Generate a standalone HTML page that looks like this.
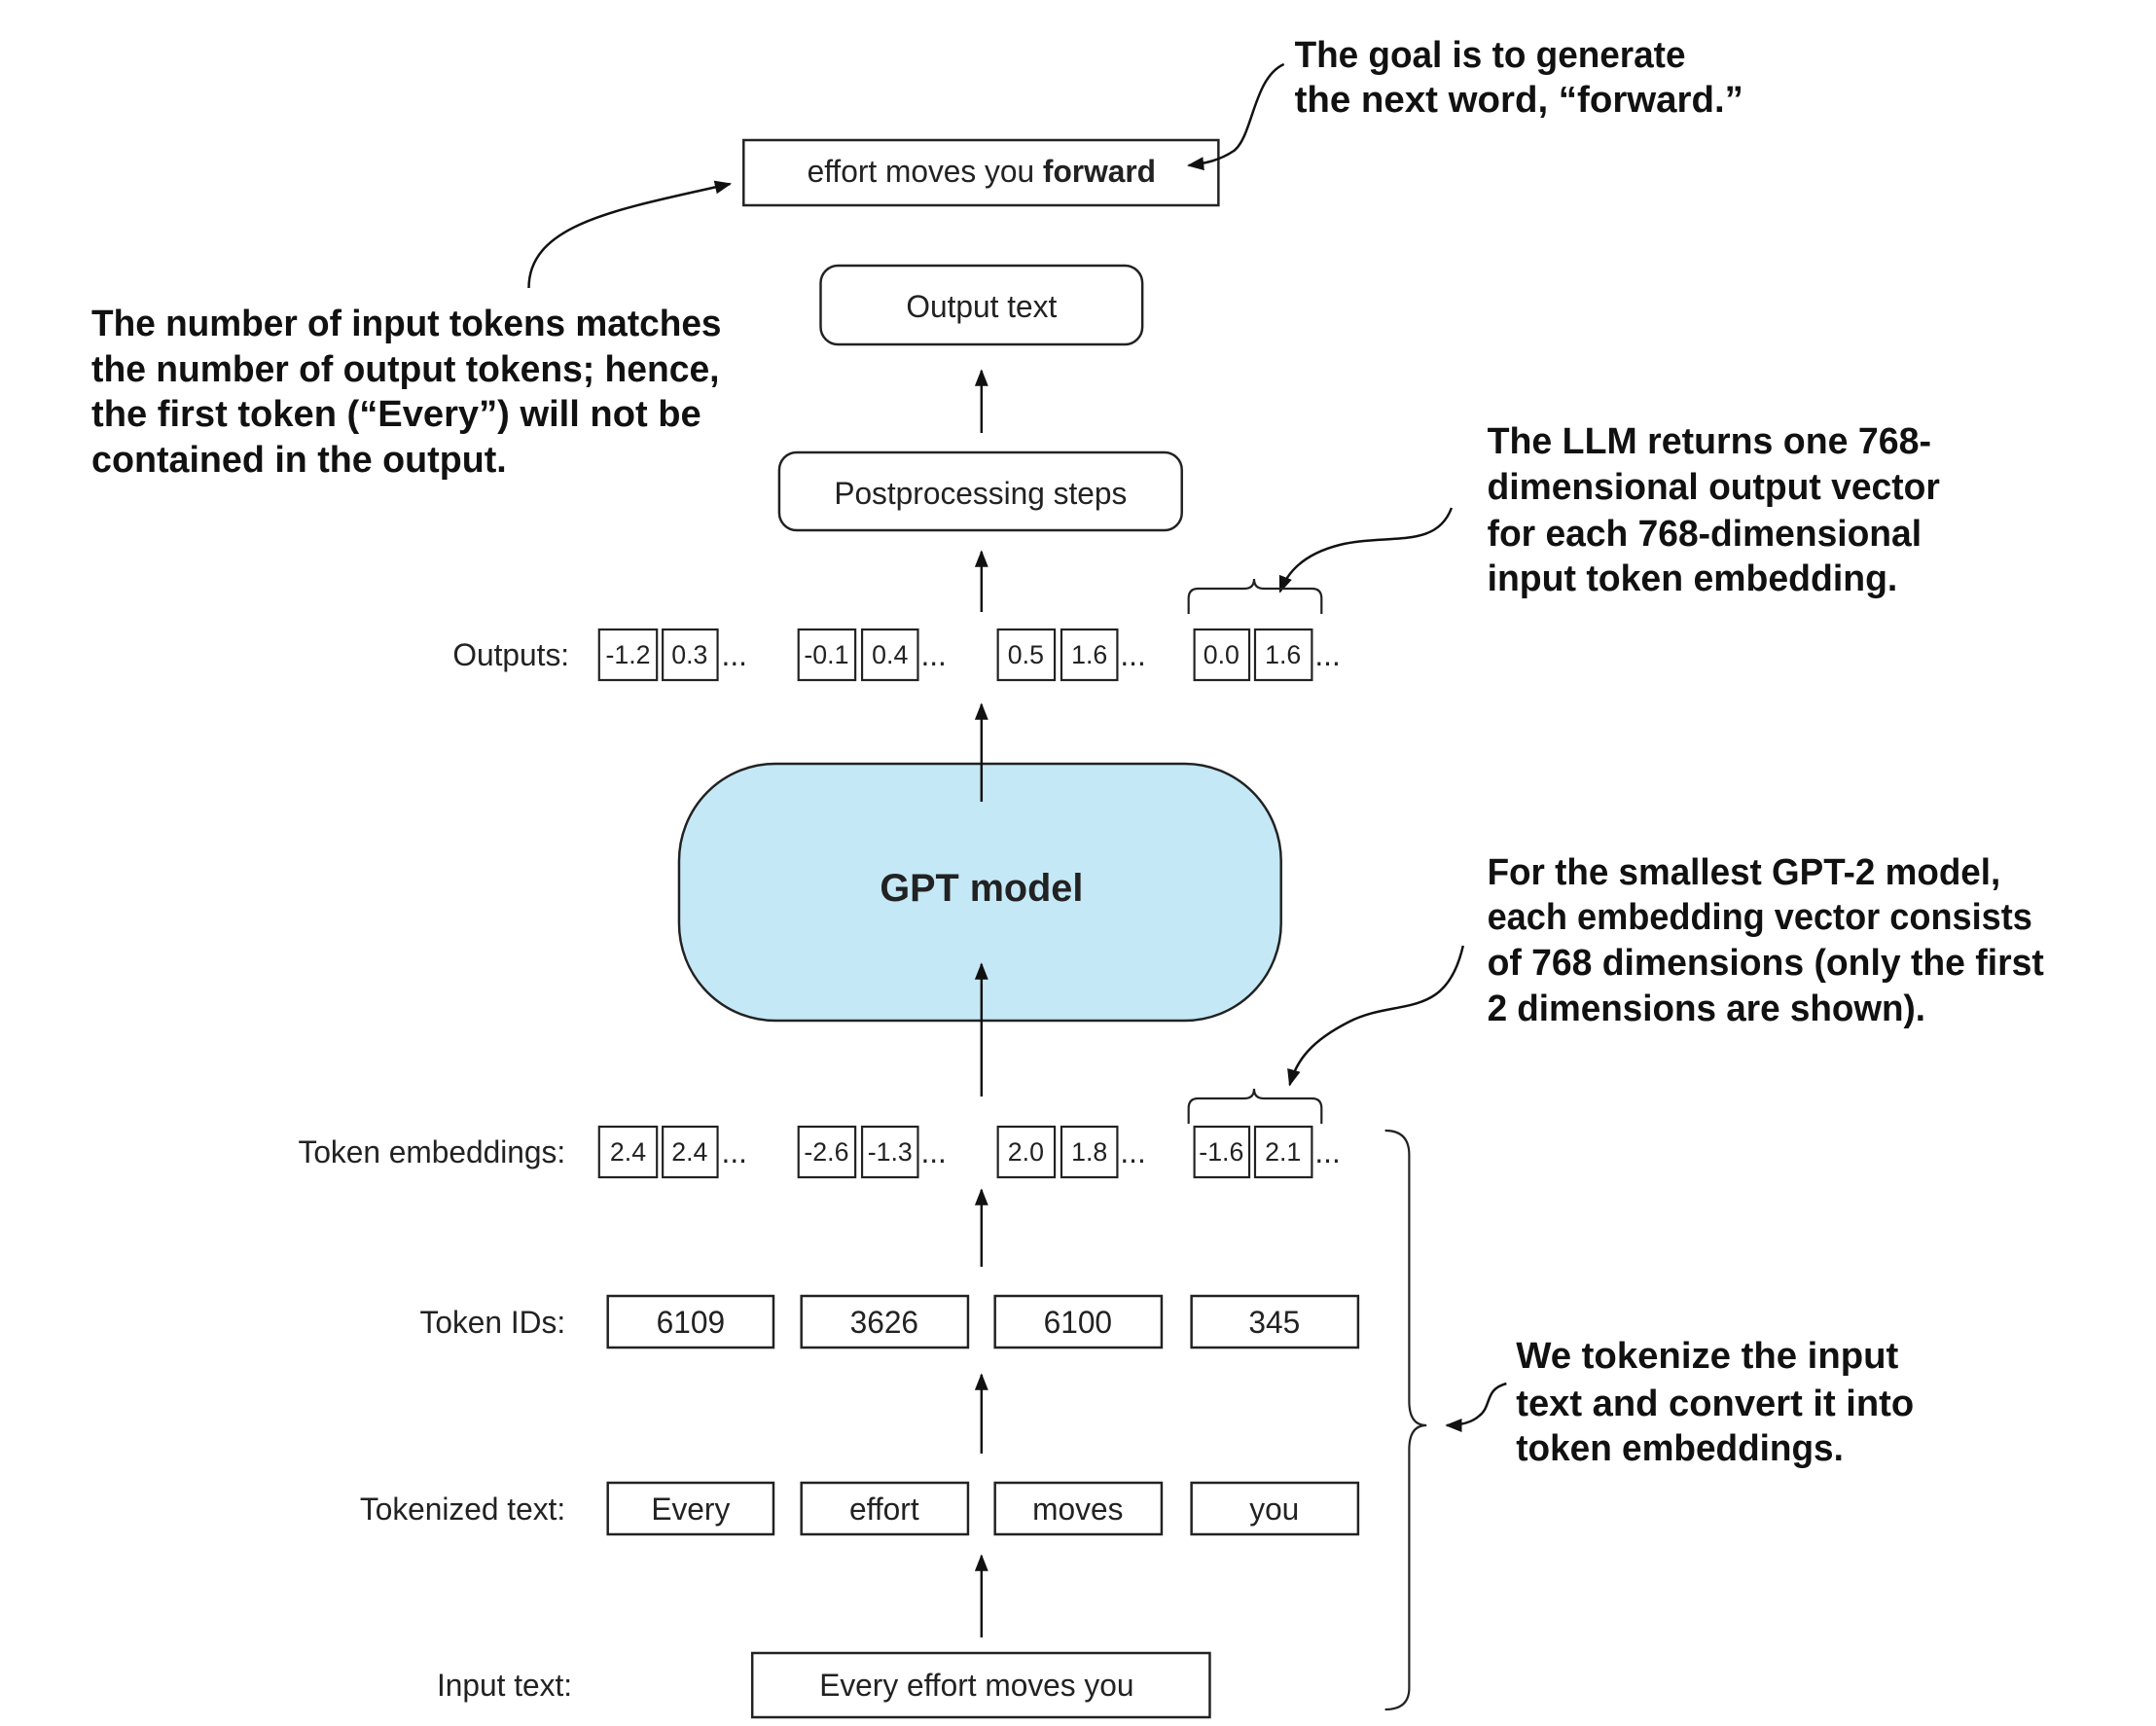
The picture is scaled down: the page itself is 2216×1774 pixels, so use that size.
<!DOCTYPE html>
<html><head><meta charset="utf-8"><style>html,body{margin:0;padding:0;background:#fff}svg{display:block}</style></head><body>
<svg width="2216" height="1774" viewBox="0 0 2216 1774" xmlns="http://www.w3.org/2000/svg" font-family="Liberation Sans, sans-serif">
<defs><marker id="a" viewBox="0 0 10 10" refX="9" refY="5" markerWidth="7" markerHeight="7" orient="auto"><path d="M0,1 L10,5 L0,9 z" fill="#111"/></marker></defs>
<g transform="matrix(0.99 0 0 1 1 0)">
<g fill="none" stroke="#222" stroke-width="2.5">
<rect x="771" y="144" width="493" height="67"/>
<rect x="851" y="273" width="334" height="81" rx="18"/>
<rect x="808" y="465" width="418" height="80" rx="18"/>
<rect x="704" y="785" width="625" height="264" rx="100" fill="#c4e8f5"/>
<rect x="630" y="1332" width="172" height="53"/><rect x="831" y="1332" width="173" height="53"/><rect x="1032" y="1332" width="173" height="53"/><rect x="1236" y="1332" width="173" height="53"/>
<rect x="630" y="1524" width="172" height="53"/><rect x="831" y="1524" width="173" height="53"/><rect x="1032" y="1524" width="173" height="53"/><rect x="1236" y="1524" width="173" height="53"/>
<rect x="780" y="1699" width="475" height="66"/>
<g stroke-width="2.2">
<rect x="621" y="647" width="60" height="52"/><rect x="687" y="647" width="57" height="52"/><rect x="828" y="647" width="59" height="52"/><rect x="894" y="647" width="58" height="52"/><rect x="1035" y="647" width="59" height="52"/><rect x="1101" y="647" width="58" height="52"/><rect x="1239" y="647" width="57" height="52"/><rect x="1302" y="647" width="59" height="52"/>
<rect x="621" y="1158" width="60" height="52"/><rect x="687" y="1158" width="57" height="52"/><rect x="828" y="1158" width="59" height="52"/><rect x="894" y="1158" width="58" height="52"/><rect x="1035" y="1158" width="59" height="52"/><rect x="1101" y="1158" width="58" height="52"/><rect x="1239" y="1158" width="57" height="52"/><rect x="1302" y="1158" width="59" height="52"/>
</g>
</g>
<g stroke="#111" stroke-width="2.5" fill="none" marker-end="url(#a)">
<line x1="1018" y1="445" x2="1018" y2="381"/>
<line x1="1018" y1="629" x2="1018" y2="567"/>
<line x1="1018" y1="824" x2="1018" y2="724"/>
<line x1="1018" y1="1127" x2="1018" y2="991"/>
<line x1="1018" y1="1302" x2="1018" y2="1223"/>
<line x1="1018" y1="1494" x2="1018" y2="1413"/>
<line x1="1018" y1="1683" x2="1018" y2="1599"/>
<path d="M548,296 C548,230 640,215 757,189"/>
<path d="M1332,66 C1300,80 1300,140 1280,155 C1265,165 1250,168 1233,170"/>
<path d="M1506,522 C1490,565 1440,548 1390,560 C1350,570 1335,590 1328,608"/>
<path d="M1518,972 C1500,1050 1450,1025 1400,1050 C1360,1070 1345,1090 1338,1115"/>
<path d="M1563,1422 C1540,1428 1548,1445 1535,1455 C1525,1464 1510,1465 1501,1465"/>
</g>
<g stroke="#222" stroke-width="2.2" fill="none">
<path d="M1233,631 L1233,615 Q1233,605 1243,605 L1291,605 Q1301,605 1301,595 Q1301,605 1311,605 L1361,605 Q1371,605 1371,615 L1371,631"/>
<path d="M1233,1155 L1233,1139 Q1233,1129 1243,1129 L1291,1129 Q1301,1129 1301,1119 Q1301,1129 1311,1129 L1361,1129 Q1371,1129 1371,1139 L1371,1155"/>
<path d="M1437,1162 Q1462,1162 1462,1187 L1462,1440 Q1462,1465 1480,1465 Q1462,1465 1462,1490 L1462,1735 Q1462,1757 1437,1757"/>
</g>
<g fill="#222" font-size="32" text-anchor="middle" dominant-baseline="central">
<text x="1018" y="176">effort moves you <tspan font-weight="bold">forward</tspan></text>
<text x="1018" y="315">Output text</text>
<text x="1017" y="507">Postprocessing steps</text>
<text x="1018" y="913" font-size="40" font-weight="bold">GPT model</text>
<text x="716" y="1359">6109</text><text x="917" y="1359">3626</text><text x="1118" y="1359">6100</text><text x="1322" y="1359">345</text>
<text x="716" y="1551">Every</text><text x="917" y="1551">effort</text><text x="1118" y="1551">moves</text><text x="1322" y="1551">you</text>
<text x="1013" y="1732">Every effort moves you</text>
</g>
<g fill="#222" font-size="32" text-anchor="end" dominant-baseline="central">
<text x="590" y="673">Outputs:</text>
<text x="586" y="1184">Token embeddings:</text>
<text x="586" y="1359">Token IDs:</text>
<text x="586" y="1551">Tokenized text:</text>
<text x="593" y="1732">Input text:</text>
</g>
<g fill="#222" font-size="27" text-anchor="middle" dominant-baseline="central">
<text x="651" y="673">-1.2</text><text x="715" y="673">0.3</text><text x="857" y="673">-0.1</text><text x="923" y="673">0.4</text><text x="1064" y="673">0.5</text><text x="1130" y="673">1.6</text><text x="1267" y="673">0.0</text><text x="1331" y="673">1.6</text>
<text x="651" y="1184">2.4</text><text x="715" y="1184">2.4</text><text x="857" y="1184">-2.6</text><text x="923" y="1184">-1.3</text><text x="1064" y="1184">2.0</text><text x="1130" y="1184">1.8</text><text x="1267" y="1184">-1.6</text><text x="1331" y="1184">2.1</text>
</g>
<g fill="#222" font-size="32">
<text x="748" y="684">...</text><text x="955" y="684">...</text><text x="1162" y="684">...</text><text x="1364" y="684">...</text>
<text x="748" y="1195">...</text><text x="955" y="1195">...</text><text x="1162" y="1195">...</text><text x="1364" y="1195">...</text>
</g>
<g fill="#111" font-size="38" font-weight="bold">
<text x="1343" y="69" textLength="406" lengthAdjust="spacingAndGlyphs">The goal is to generate</text>
<text x="1343" y="115" textLength="466" lengthAdjust="spacingAndGlyphs">the next word, “forward.”</text>
<text x="94" y="345" textLength="654" lengthAdjust="spacingAndGlyphs">The number of input tokens matches</text>
<text x="94" y="392" textLength="652" lengthAdjust="spacingAndGlyphs">the number of output tokens; hence,</text>
<text x="94" y="438" textLength="633" lengthAdjust="spacingAndGlyphs">the first token (“Every”) will not be</text>
<text x="94" y="485" textLength="431" lengthAdjust="spacingAndGlyphs">contained in the output.</text>
<text x="1543" y="466" textLength="461" lengthAdjust="spacingAndGlyphs">The LLM returns one 768-</text>
<text x="1543" y="513" textLength="470" lengthAdjust="spacingAndGlyphs">dimensional output vector</text>
<text x="1543" y="561" textLength="451" lengthAdjust="spacingAndGlyphs">for each 768-dimensional</text>
<text x="1543" y="607" textLength="426" lengthAdjust="spacingAndGlyphs">input token embedding.</text>
<text x="1543" y="909" textLength="533" lengthAdjust="spacingAndGlyphs">For the smallest GPT-2 model,</text>
<text x="1543" y="955" textLength="566" lengthAdjust="spacingAndGlyphs">each embedding vector consists</text>
<text x="1543" y="1002" textLength="578" lengthAdjust="spacingAndGlyphs">of 768 dimensions (only the first</text>
<text x="1543" y="1049" textLength="455" lengthAdjust="spacingAndGlyphs">2 dimensions are shown).</text>
<text x="1573" y="1406" textLength="397" lengthAdjust="spacingAndGlyphs">We tokenize the input</text>
<text x="1573" y="1455" textLength="413" lengthAdjust="spacingAndGlyphs">text and convert it into</text>
<text x="1573" y="1501" textLength="340" lengthAdjust="spacingAndGlyphs">token embeddings.</text>
</g>
</g>
</svg>
</body></html>
